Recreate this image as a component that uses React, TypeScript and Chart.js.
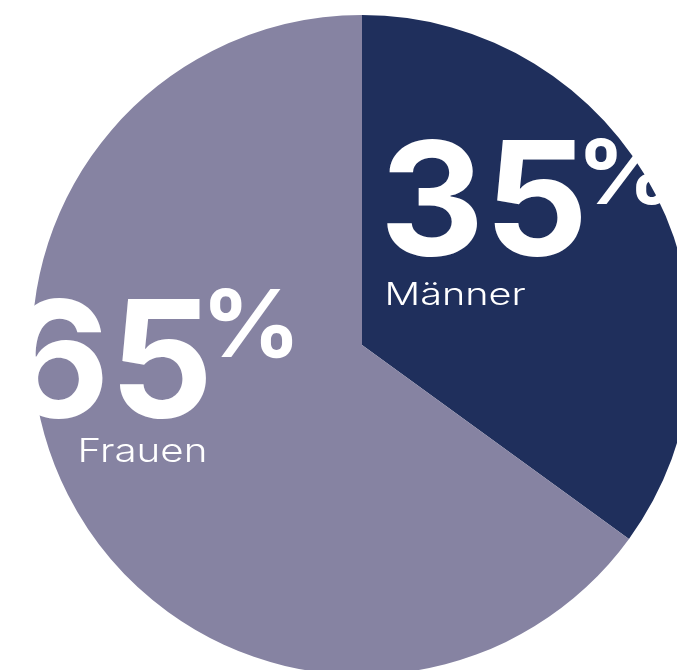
import React, { useEffect, useRef } from "react";
import { Chart, registerables } from "chart.js";

Chart.register(...registerables);

const categories = ["Männer", "Frauen"];
const values = [35, 65];
const colors = ["#1f2f5c", "#8683a2"];

const labelPlugin = {
  id: "bigLabels",
  afterDraw(chart: any) {
    const meta = chart.getDatasetMeta(0);
    const arc = meta.data[0];
    if (!arc) return;
    const cx = arc.x;
    const cy = arc.y;
    const r = arc.outerRadius;
    const ctx: CanvasRenderingContext2D = chart.ctx;

    const drawBox = (
      text: string,
      font: string,
      left: number,
      top: number,
      baseline: number,
      width: number
    ) => {
      ctx.save();
      ctx.font = font;
      const m = ctx.measureText(text);
      const w = m.actualBoundingBoxRight + m.actualBoundingBoxLeft;
      const a = m.actualBoundingBoxAscent;
      const sx = width / w;
      const sy = (baseline - top) / a;
      ctx.translate(left, baseline);
      ctx.scale(sx, sy);
      ctx.fillStyle = "#ffffff";
      ctx.textBaseline = "alphabetic";
      ctx.textAlign = "left";
      ctx.fillText(text, m.actualBoundingBoxLeft, 0);
      ctx.restore();
    };

    const bold = "700 100px Inter, 'Open Sans', sans-serif";
    const light = "300 100px Inter, 'Open Sans', sans-serif";

    // Männer (slice 0)
    {
      const left = cx + 0.073 * r;
      const top = cy - 0.627 * r;
      const base = cy - 0.273 * r;
      const w = 0.594 * r;
      drawBox(String(values[0]), bold, left, top, base, w);
      drawBox("%", bold, left + w + 0.01 * r, top, top + 0.2 * r, 0.25 * r);
      drawBox(categories[0], light, cx + 0.079 * r, cy - 0.191 * r, cy - 0.121 * r, 0.415 * r);
    }
    // Frauen (slice 1)
    {
      const right = cx - 0.47 * r;
      const w = 0.594 * r;
      const left = right - w;
      const top = cy - 0.145 * r;
      const base = cy + 0.218 * r;
      drawBox(String(values[1]), bold, left, top, base, w);
      drawBox("%", bold, right + 0.01 * r, cy - 0.173 * r, cy + 0.036 * r, 0.25 * r);
      drawBox(categories[1], light, cx - 0.851 * r, cy + 0.282 * r, cy + 0.355 * r, 0.373 * r);
    }
  },
};

export default function App() {
  const ref = useRef<HTMLCanvasElement | null>(null);
  useEffect(() => {
    if (!ref.current) return;
    const chart = new Chart(ref.current, {
      type: "pie",
      data: {
        labels: categories,
        datasets: [
          {
            data: values,
            backgroundColor: colors,
            borderWidth: 0,
          },
        ],
      },
      options: {
        animation: false,
        responsive: true,
        maintainAspectRatio: false,
        layout: { padding: 0 },
        plugins: {
          legend: { display: false },
          tooltip: { enabled: false },
        },
      },
      plugins: [labelPlugin],
    });
    return () => chart.destroy();
  }, []);
  return (
    <div
      style={{
        position: "fixed",
        left: 0,
        top: 0,
        width: 677,
        height: 670,
        overflow: "hidden",
        background: "#ffffff",
      }}
    >
      <div style={{ position: "absolute", left: 32, top: 15, width: 660, height: 660 }}>
        <canvas ref={ref} />
      </div>
    </div>
  );
}
